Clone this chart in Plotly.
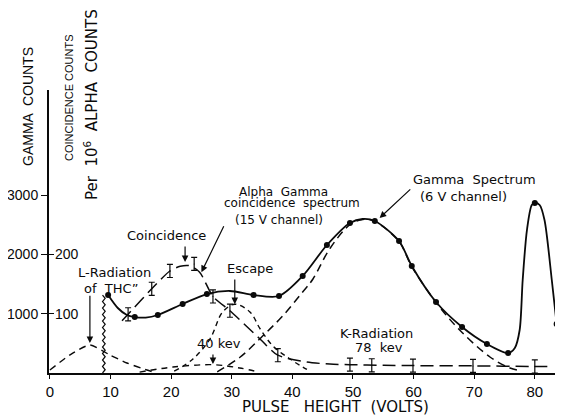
import numpy as np
import plotly.graph_objects as go

# ---------------- data ----------------
# Gamma spectrum (6 V channel): measured points (dots)
GAMMA_PT_X = [9.6, 14.0, 17.8, 21.9, 25.9, 33.6, 37.8, 41.7, 45.7, 49.5, 53.6,
              57.6, 59.7, 63.7, 68.0, 72.1, 75.6, 80.0, 83.6]
GAMMA_PT_Y = [1315, 944, 978, 1164, 1332, 1315, 1298, 1636, 2158, 2530, 2563,
              2226, 1804, 1197, 776, 489, 337, 2867, 826]
# Gamma spectrum: drawn curve through the points
GAMMA_CURVE_X = [9.6, 11.2, 12.7, 14.0, 15.8, 17.8, 21.9, 25.9, 29.7, 33.6, 37.8,
                 41.7, 45.7, 49.5, 51.6, 53.6, 57.6, 59.7, 63.7, 68.0, 72.1, 75.6,
                 76.7, 77.5, 78.0, 78.7, 79.5, 80.0, 80.8, 81.6, 82.8, 83.6, 84.5]
GAMMA_CURVE_Y = [1315, 1096, 978, 944, 935, 978, 1164, 1332, 1383, 1315, 1298,
                 1636, 2158, 2530, 2597, 2563, 2226, 1804, 1197, 776, 489, 337,
                 422, 725, 1568, 2411, 2833, 2867, 2833, 2580, 1568, 826, 51]
# Dashed gamma component
GAMMA_DASH_X = [27.6, 31.4, 35.1, 38.4, 41.7, 43.4, 46.2, 49.5, 51.6, 53.6, 57.6,
                59.7, 63.7, 67.6, 72.6, 75.9, 77.5]
GAMMA_DASH_Y = [20, 270, 624, 961, 1366, 1585, 2100, 2500, 2590, 2555, 2215,
                1795, 1190, 725, 270, 84, 40]
# Alpha-gamma coincidence spectrum (15 V channel), counts per 1e6 alpha counts
COINC_X = [11.9, 12.9, 16.8, 19.8, 21.5, 23.0, 24.7, 26.9, 29.7, 34.7, 37.6,
           42.4, 46.2, 49.5, 55.0, 60.0, 70.0, 80.0, 82.4]
COINC_Y = [88, 99, 142, 172, 180, 181, 170, 129, 105, 57, 30,
           18.5, 15, 14, 13, 12.5, 12, 11, 11]
COINC_ERR_X = [12.9, 16.8, 19.8, 23.8, 26.9, 29.7, 37.6, 49.5, 53.1, 59.9, 69.8, 80.0]
COINC_ERR_Y = [99, 142, 172, 184, 129, 105, 30, 14, 13, 12.5, 12, 11]
COINC_ERR = [11, 11, 11, 11, 11, 11, 11, 11, 11, 11, 11, 11]
# Escape peak
ESC_X = [20.5, 23.6, 26.4, 28.5, 30.5, 33.0, 34.7, 36.8, 39.6, 42.4]
ESC_Y = [30, 236, 573, 1029, 1160, 1029, 742, 455, 236, 60]
# 40 kev component
K40_X = [14.8, 20.3, 26.9, 31.3, 34.5]
K40_Y = [15, 100, 140, 85, 15]
# L-radiation hump
LRAD_X = [0.0, 3.3, 6.6, 9.9, 12.7, 16.0, 17.0]
LRAD_Y = [50, 304, 472, 304, 169, 50, 17]
# L-radiation line (wavy vertical)
WAVY_X = 8.9
WAVY_TOP = 1315

X_TICKS = [0, 10, 20, 30, 40, 50, 60, 70, 80]
Y_TICKS = [1000, 2000, 3000]
Y2_TICKS = [100, 200]
Y_MAX = 4772

FONT = "DejaVu Sans"
TICKFONT = "Liberation Sans"
INK = "#0a0a0a"

fig = go.Figure()

# L-radiation hump
fig.add_trace(go.Scatter(x=LRAD_X, y=LRAD_Y, mode="lines",
                         line=dict(color=INK, width=1.4, dash="7px,5px", shape="spline", smoothing=0.6),
                         hoverinfo="skip", showlegend=False))
# wavy line
n = 24
wy = np.linspace(0, WAVY_TOP, n + 1)
wx = [WAVY_X + (0.22 if i % 2 else -0.22) for i in range(n + 1)]
fig.add_trace(go.Scatter(x=wx, y=wy, mode="lines", line=dict(color=INK, width=1.2),
                         hoverinfo="skip", showlegend=False))
# 40 kev
fig.add_trace(go.Scatter(x=K40_X, y=K40_Y, mode="lines",
                         line=dict(color=INK, width=1.4, dash="6px,5px", shape="spline"),
                         hoverinfo="skip", showlegend=False))
# escape
fig.add_trace(go.Scatter(x=ESC_X, y=ESC_Y, mode="lines",
                         line=dict(color=INK, width=1.4, dash="5px,4px", shape="spline"),
                         hoverinfo="skip", showlegend=False))
# dashed gamma component
fig.add_trace(go.Scatter(x=GAMMA_DASH_X, y=GAMMA_DASH_Y, mode="lines",
                         line=dict(color=INK, width=1.5, dash="8px,5px", shape="spline"),
                         hoverinfo="skip", showlegend=False))
# coincidence curve (on per-10^6 axis)
fig.add_trace(go.Scatter(x=COINC_X, y=COINC_Y, yaxis="y2", mode="lines",
                         line=dict(color=INK, width=1.5, dash="13px,6px", shape="spline", smoothing=0.7),
                         hoverinfo="skip", showlegend=False))
fig.add_trace(go.Scatter(x=COINC_ERR_X, y=COINC_ERR_Y, yaxis="y2", mode="markers",
                         marker=dict(size=1, color=INK),
                         error_y=dict(type="data", array=COINC_ERR, color=INK, thickness=1.2, width=3),
                         hoverinfo="skip", showlegend=False))
# gamma spectrum solid
fig.add_trace(go.Scatter(x=GAMMA_CURVE_X, y=GAMMA_CURVE_Y, mode="lines",
                         line=dict(color=INK, width=1.8, shape="spline", smoothing=0.8),
                         hoverinfo="skip", showlegend=False))
fig.add_trace(go.Scatter(x=GAMMA_PT_X, y=GAMMA_PT_Y, mode="markers",
                         marker=dict(size=6, color=INK),
                         hoverinfo="skip", showlegend=False))

ann = []
def text(x, y, s, size=13):
    ann.append(dict(x=x, y=y, xref="x", yref="y", text=s, showarrow=False,
                    xanchor="center", yanchor="middle",
                    font=dict(family=FONT, size=size, color=INK)))

def arrow(x, y, ax, ay):
    ann.append(dict(x=x, y=y, ax=ax, ay=ay, xref="x", yref="y", axref="x", ayref="y",
                    text="", showarrow=True, arrowhead=2, arrowsize=1.1, arrowwidth=1.2,
                    arrowcolor=INK, standoff=0, startstandoff=0))

text(10.7, 1703, "L-Radiation")
text(10.1, 1433, "of  THC\u201d")
arrow(6.6, 506, 6.6, 1330)
text(19.3, 2327, "Coincidence")
arrow(22.3, 1872, 22.3, 2158)
text(38.6, 3050, "Alpha  Gamma", 12)
text(39.9, 2860, "coincidence  spectrum", 12)
text(37.8, 2580, "(15 V channel)", 12)
arrow(25.0, 1700, 28.8, 2500)
text(33.0, 1754, "Escape")
arrow(30.5, 1160, 30.5, 1600)
text(27.9, 490, "40 kev")
arrow(26.9, 150, 26.9, 337)
text(53.9, 658, "K-Radiation")
text(54.3, 422, "78  kev")
text(70.1, 3255, "Gamma  Spectrum")
text(68.3, 2968, "(6 V channel)")
arrow(54.4, 2614, 59.7, 3120)

# page body has an 8px margin: figure pixels = page pixels - 8
OFF = 8
L, T, W, H = 49, 90, 514, 283      # plot area in page pixels
FIG_W, FIG_H = 563 - OFF, 415 - OFF

def px(xp):
    return (xp - L) / W
def py(yp):
    return (T + H - yp) / H

for xp, yp, s, fam, size in [(28, 107, "GAMMA  COUNTS", TICKFONT, 14),
                             (69, 98, "COINCIDENCE COUNTS", TICKFONT, 11),
                             (91, 105, "Per  10<sup>6</sup>  ALPHA  COUNTS", FONT, 15)]:
    ann.append(dict(x=px(xp), y=py(yp), xref="paper", yref="paper", text=s, textangle=-90,
                    xanchor="center", yanchor="middle",
                    showarrow=False, font=dict(family=fam, size=size, color=INK)))
ann.append(dict(x=px(335), y=py(407), xref="paper", yref="paper", text="PULSE   HEIGHT  (VOLTS)",
                xanchor="center", yanchor="middle",
                showarrow=False, font=dict(family=FONT, size=15, color=INK)))
# right-hand labels of the coincidence scale
for v in Y2_TICKS:
    ann.append(dict(x=px(53), y=v, xref="paper", yref="y2", text=str(v), showarrow=False,
                    xanchor="left", yanchor="middle",
                    font=dict(family=TICKFONT, size=14, color=INK)))

fig.update_layout(
    width=FIG_W, height=FIG_H,
    margin=dict(l=L - OFF, r=0, t=T - OFF, b=FIG_H - (T - OFF) - H, autoexpand=False),
    paper_bgcolor="white", plot_bgcolor="white",
    showlegend=False,
    annotations=ann,
    xaxis=dict(range=[-0.15, 84.65], tickvals=X_TICKS, ticktext=[str(v) for v in X_TICKS],
               showgrid=False, zeroline=False, showline=True, linecolor=INK, linewidth=2,
               ticks="outside", ticklen=4, tickcolor=INK, automargin=False,
               tickfont=dict(family=TICKFONT, size=15, color=INK)),
    yaxis=dict(range=[0, Y_MAX], tickvals=Y_TICKS, ticktext=[str(v) for v in Y_TICKS],
               showgrid=False, zeroline=False, showline=True, linecolor=INK, linewidth=2,
               ticks="outside", ticklen=6, tickcolor=INK, automargin=False,
               tickfont=dict(family=TICKFONT, size=14, color=INK)),
    yaxis2=dict(range=[0, Y_MAX / 10], overlaying="y", side="left", anchor="x",
                tickvals=Y2_TICKS, showticklabels=False,
                showgrid=False, zeroline=False, showline=False, automargin=False,
                ticks="inside", ticklen=5, tickcolor=INK),
)

fig.write_html("out.html")
